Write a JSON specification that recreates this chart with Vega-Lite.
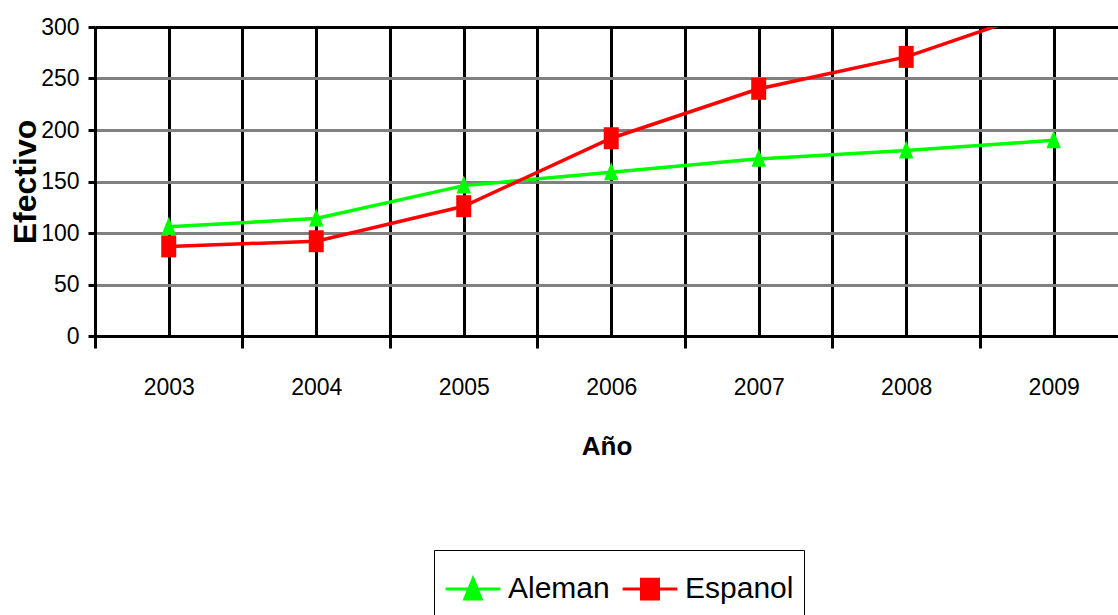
{
  "$schema": "https://vega.github.io/schema/vega-lite/v6.json",
  "width": 1023,
  "height": 309,
  "autosize": {"type": "none"},
  "padding": {"left": 95, "top": 27, "right": 0, "bottom": 279},
  "background": "white",
  "config": {
    "view": {"stroke": null},
    "font": "Liberation Sans, sans-serif"
  },
  "data": {
    "values": [
      {"year": 2003, "series": "Aleman", "value": 106},
      {"year": 2004, "series": "Aleman", "value": 114},
      {"year": 2005, "series": "Aleman", "value": 146},
      {"year": 2006, "series": "Aleman", "value": 159},
      {"year": 2007, "series": "Aleman", "value": 172},
      {"year": 2008, "series": "Aleman", "value": 180},
      {"year": 2009, "series": "Aleman", "value": 190},
      {"year": 2003, "series": "Espanol", "value": 87},
      {"year": 2004, "series": "Espanol", "value": 92},
      {"year": 2005, "series": "Espanol", "value": 126},
      {"year": 2006, "series": "Espanol", "value": 192},
      {"year": 2007, "series": "Espanol", "value": 240},
      {"year": 2008, "series": "Espanol", "value": 271},
      {"year": 2009, "series": "Espanol", "value": 320}
    ]
  },
  "encoding": {
    "x": {
      "field": "year",
      "type": "quantitative",
      "scale": {"domain": [2002.5, 2009.436], "nice": false, "zero": false},
      "axis": {
        "values": [2002.5, 2003, 2003.5, 2004, 2004.5, 2005, 2005.5, 2006, 2006.5, 2007, 2007.5, 2008, 2008.5, 2009],
        "labelExpr": "datum.value % 1 == 0 ? format(datum.value, 'd') : ''",
        "labelOverlap": false,
        "labelFlush": false,
        "labelFont": "Liberation Sans, sans-serif",
        "labelFontSize": 23,
        "labelColor": "black",
        "labelPadding": 28,
        "grid": true,
        "gridColor": "black",
        "gridWidth": 3,
        "gridOpacity": 1,
        "domain": true,
        "domainColor": "black",
        "domainWidth": 3,
        "ticks": true,
        "tickColor": "black",
        "tickWidth": 3,
        "tickSize": 12,
        "tickOpacity": {"condition": {"test": "datum.value % 1 == 0", "value": 0}, "value": 1},
        "title": "Año",
        "titleFont": "Liberation Sans, sans-serif",
        "titleFontSize": 26,
        "titleFontWeight": "bold",
        "titleColor": "black",
        "titlePadding": 34
      }
    },
    "y": {
      "field": "value",
      "type": "quantitative",
      "scale": {"domain": [0, 300], "nice": false},
      "axis": {
        "values": [0, 50, 100, 150, 200, 250, 300],
        "labelFont": "Liberation Sans, sans-serif",
        "labelFontSize": 23,
        "labelColor": "black",
        "labelPadding": 9,
        "grid": true,
        "gridColor": {"condition": {"test": "datum.value == 300", "value": "black"}, "value": "#808080"},
        "gridWidth": 3,
        "gridOpacity": 1,
        "domain": true,
        "domainColor": "black",
        "domainWidth": 3,
        "tickColor": "black",
        "tickWidth": 3,
        "tickSize": 7,
        "title": "Efectivo",
        "titleFont": "Liberation Sans, sans-serif",
        "titleFontSize": 32,
        "titleFontWeight": "bold",
        "titleColor": "black",
        "titlePadding": -2
      }
    },
    "color": {
      "field": "series",
      "type": "nominal",
      "scale": {"domain": ["Aleman", "Espanol"], "range": ["#00ff00", "#ff0000"]},
      "legend": {
        "orient": "none",
        "legendX": 339,
        "legendY": 523,
        "direction": "horizontal",
        "title": null,
        "strokeColor": "black",
        "fillColor": "white",
        "padding": 10,
        "symbolSize": 3000,
        "symbolStrokeWidth": 3,
        "symbolType": {"expr": "datum.value == 'Aleman' ? 'M-1,0H1M0,-0.38L0.3,0.36L-0.3,0.36Z' : 'M-1,0H1M-0.31,-0.36H0.31V0.36H-0.31Z'"},
        "symbolFillColor": {"expr": "datum.value == 'Aleman' ? '#00ff00' : '#ff0000'"},
        "symbolStrokeColor": {"expr": "datum.value == 'Aleman' ? '#00ff00' : '#ff0000'"},
        "symbolOpacity": 1,
        "labelFont": "Liberation Sans, sans-serif",
        "labelFontSize": 30,
        "labelColor": "black",
        "labelOffset": 6,
        "columnPadding": 6
      }
    }
  },
  "layer": [
    {
      "mark": {"type": "line", "strokeWidth": 3.5, "clip": true}
    },
    {
      "transform": [{"filter": "datum.series == 'Aleman'"}],
      "mark": {"type": "point", "filled": true, "opacity": 1, "size": 400, "clip": true, "shape": "M0,-1L0.72,0.8L-0.72,0.8Z"}
    },
    {
      "transform": [{"filter": "datum.series == 'Espanol'"}],
      "mark": {"type": "point", "filled": true, "opacity": 1, "size": 400, "clip": true, "shape": "M-0.75,-1.1H0.75V1.1H-0.75Z"}
    }
  ]
}
